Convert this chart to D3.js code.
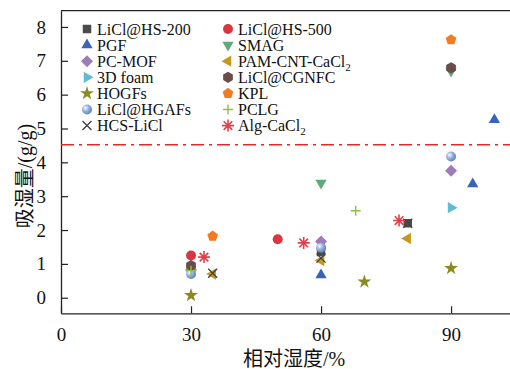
<!DOCTYPE html>
<html>
<head>
<meta charset="utf-8">
<script src="https://cdn.jsdelivr.net/npm/d3@7"></script>
<style>
  body { margin: 0; background: #fff; }
  text { font-family: "Liberation Serif", "Times New Roman", "Noto Sans CJK SC", serif; fill: #111; }
</style>
</head>
<body>
<div id="chart"></div>
<script>
// Data: relative humidity (%) and uptake (g/g) per material
var hs200RH = [30, 60, 80],   hs200Up = [0.9, 1.35, 2.2];
var pgfRH = [60, 95, 100],    pgfUp = [0.67, 3.36, 5.26];
var pcmofRH = [30, 60, 90],   pcmofUp = [0.82, 1.66, 3.75];
var foamRH = [90],            foamUp = [2.66];
var hogfRH = [30, 70, 90],    hogfUp = [0.07, 0.47, 0.87];
var hgafRH = [30, 60, 90],    hgafUp = [0.7, 1.48, 4.17];
var hcsRH = [35, 60, 80],     hcsUp = [0.72, 1.17, 2.2];
var hs500RH = [30, 50],       hs500Up = [1.25, 1.73];
var smagRH = [60, 90],        smagUp = [3.39, 6.7];
var pamRH = [35, 60, 80],     pamUp = [0.7, 1.1, 1.75];
var cgnfcRH = [30, 90],       cgnfcUp = [0.95, 6.79];
var kplRH = [35, 90],         kplUp = [1.82, 7.62];
var pclgRH = [30, 68],        pclgUp = [0.8, 2.57];
var algRH = [33, 56, 78],     algUp = [1.2, 1.62, 2.28];

var threshold = 4.52;
var xTicks = [0, 30, 60, 90];
var yTicks = [0, 1, 2, 3, 4, 5, 6, 7, 8];

// series: name, sub (subscript part), rh, up, marker, colour
var series = [
  {name: "LiCl@HS-200", rh: hs200RH, up: hs200Up, shape: "square", color: "#4a4a4a"},
  {name: "PGF", rh: pgfRH, up: pgfUp, shape: "triUp", color: "#3a63b8"},
  {name: "PC-MOF", rh: pcmofRH, up: pcmofUp, shape: "diamond", color: "#9c7cb9"},
  {name: "3D foam", rh: foamRH, up: foamUp, shape: "triRight", color: "#5dbdd2"},
  {name: "HOGFs", rh: hogfRH, up: hogfUp, shape: "star", color: "#8b8a1f"},
  {name: "LiCl@HGAFs", rh: hgafRH, up: hgafUp, shape: "sphere", color: "#7396d2"},
  {name: "HCS-LiCl", rh: hcsRH, up: hcsUp, shape: "times", color: "#444444"},
  {name: "LiCl@HS-500", rh: hs500RH, up: hs500Up, shape: "circle", color: "#d93642"},
  {name: "SMAG", rh: smagRH, up: smagUp, shape: "triDown", color: "#5fa97b"},
  {name: "PAM-CNT-CaCl", sub: "2", rh: pamRH, up: pamUp, shape: "triLeft", color: "#c8981c"},
  {name: "LiCl@CGNFC", rh: cgnfcRH, up: cgnfcUp, shape: "hexagon", color: "#6a4c4b"},
  {name: "KPL", rh: kplRH, up: kplUp, shape: "pentagon", color: "#f27a22"},
  {name: "PCLG", rh: pclgRH, up: pclgUp, shape: "plus", color: "#8cc43f"},
  {name: "Alg-CaCl", sub: "2", rh: algRH, up: algUp, shape: "asterisk", color: "#e2404c"}
];
// drawing order (gold triangles sit under the crosses)
var drawOrder = [0, 1, 2, 3, 4, 5, 9, 6, 7, 8, 10, 11, 12, 13];

var W = 510, H = 369;
var plotLeft = 61, plotRight = 510, plotTop = 10.7, plotBottom = 313.3;

var svg = d3.select("#chart").append("svg")
    .attr("width", W)
    .attr("height", H);

var defs = svg.append("defs");
var grad = defs.append("radialGradient").attr("id", "sphere")
    .attr("cx", "35%").attr("cy", "35%").attr("r", "65%");
grad.append("stop").attr("offset", "0%").attr("stop-color", "#ffffff");
grad.append("stop").attr("offset", "45%").attr("stop-color", "#9fb6e2");
grad.append("stop").attr("offset", "100%").attr("stop-color", "#5f84c6");

var x = d3.scaleLinear().domain([0, 103.6]).range([plotLeft, plotRight]);
var y = d3.scaleLinear().domain([-0.46, 8.48]).range([plotBottom, plotTop]);

// regular polygon path centred on 0,0
function polygon(n, r, rot) {
  var pts = [];
  for (var i = 0; i < n; i++) {
    var a = rot + i * 2 * Math.PI / n;
    pts.push([r * Math.cos(a), r * Math.sin(a)]);
  }
  return "M" + pts.map(function(p) { return p[0].toFixed(2) + "," + p[1].toFixed(2); }).join("L") + "Z";
}

function drawMarker(g, shape, color) {
  var up = -Math.PI / 2;
  if (shape === "square") {
    g.append("path").attr("d", d3.symbol(d3.symbolSquare, 72)()).attr("fill", color);
  } else if (shape === "circle") {
    g.append("circle").attr("r", 5).attr("fill", color);
  } else if (shape === "sphere") {
    g.append("circle").attr("r", 5).attr("fill", "url(#sphere)");
  } else if (shape === "triUp") {
    g.append("path").attr("d", polygon(3, 6.5, up)).attr("fill", color);
  } else if (shape === "triDown") {
    g.append("path").attr("d", polygon(3, 6.5, Math.PI / 2)).attr("fill", color);
  } else if (shape === "triLeft") {
    g.append("path").attr("d", polygon(3, 6.5, Math.PI)).attr("fill", color);
  } else if (shape === "triRight") {
    g.append("path").attr("d", polygon(3, 6.5, 0)).attr("fill", color);
  } else if (shape === "diamond") {
    g.append("path").attr("d", polygon(4, 6, up)).attr("fill", color);
  } else if (shape === "pentagon") {
    g.append("path").attr("d", polygon(5, 5.6, up)).attr("fill", color);
  } else if (shape === "hexagon") {
    g.append("path").attr("d", polygon(6, 5.6, up)).attr("fill", color);
  } else if (shape === "star") {
    g.append("path").attr("d", d3.symbol(d3.symbolStar, 60)()).attr("fill", color);
  } else if (shape === "times") {
    g.append("path").attr("d", "M-4.5,-4.5L4.5,4.5M-4.5,4.5L4.5,-4.5")
      .attr("stroke", color).attr("stroke-width", 1.4).attr("fill", "none");
  } else if (shape === "plus") {
    g.append("path").attr("d", "M-5,0L5,0M0,-5L0,5")
      .attr("stroke", color).attr("stroke-width", 1.4).attr("fill", "none");
  } else if (shape === "asterisk") {
    g.append("path").attr("d", "M-6,0L6,0M0,-6L0,6M-4.3,-4.3L4.3,4.3M-4.3,4.3L4.3,-4.3")
      .attr("stroke", color).attr("stroke-width", 1.6).attr("fill", "none");
  }
}

// Frame: left axis, bottom axis, top line
svg.append("line").attr("x1", plotLeft).attr("x2", plotRight).attr("y1", plotTop).attr("y2", plotTop)
    .attr("stroke", "#222").attr("stroke-width", 1.3);

var xAxis = svg.append("g")
    .attr("transform", "translate(0," + plotBottom + ")")
    .call(d3.axisBottom(x).tickValues(xTicks).tickSizeInner(-7).tickSizeOuter(0).tickPadding(14));
var yAxis = svg.append("g")
    .attr("transform", "translate(" + plotLeft + ",0)")
    .call(d3.axisLeft(y).tickValues(yTicks).tickSizeInner(-7).tickSizeOuter(0).tickPadding(15));

[xAxis, yAxis].forEach(function(ax) {
  ax.select(".domain").attr("stroke", "#222").attr("stroke-width", 1.3);
  ax.selectAll(".tick line").attr("stroke", "#222").attr("stroke-width", 1.2);
  ax.selectAll(".tick text")
    .attr("font-family", "'Liberation Serif', 'Times New Roman', serif")
    .attr("font-size", 19)
    .attr("fill", "#111");
});

// Threshold line
svg.append("line")
    .attr("x1", x(0)).attr("x2", plotRight)
    .attr("y1", y(threshold)).attr("y2", y(threshold))
    .attr("stroke", "#e02a2a")
    .attr("stroke-width", 1.4)
    .attr("stroke-dasharray", "13,5,3,5");

// Points
var pts = svg.append("g");
drawOrder.forEach(function(i) {
  var s = series[i];
  s.rh.forEach(function(rh, k) {
    var g = pts.append("g").attr("transform", "translate(" + x(rh) + "," + y(s.up[k]) + ")");
    drawMarker(g, s.shape, s.color);
  });
});

// Legend
var legend = svg.append("g");
series.forEach(function(s, i) {
  var col = i < 7 ? 0 : 1;
  var row = i % 7;
  var mx = col === 0 ? 87 : 228;
  var my = 29 + row * 16.1;
  var g = legend.append("g").attr("transform", "translate(" + mx + "," + my + ")");
  drawMarker(g, s.shape, s.color);
  var t = legend.append("text")
      .attr("x", mx + 10)
      .attr("y", my + 5.5)
      .attr("font-size", 16)
      .text(s.name);
  if (s.sub) {
    t.append("tspan").attr("dy", 4).attr("font-size", 11).text(s.sub);
  }
});

// Axis titles
svg.append("text")
    .attr("x", 294)
    .attr("y", 366)
    .attr("text-anchor", "middle")
    .attr("font-size", 20)
    .text("相对湿度/%");

svg.append("text")
    .attr("transform", "translate(32,176) rotate(-90)")
    .attr("text-anchor", "middle")
    .attr("font-size", 20)
    .text("吸湿量/(g/g)");
</script>
</body>
</html>
